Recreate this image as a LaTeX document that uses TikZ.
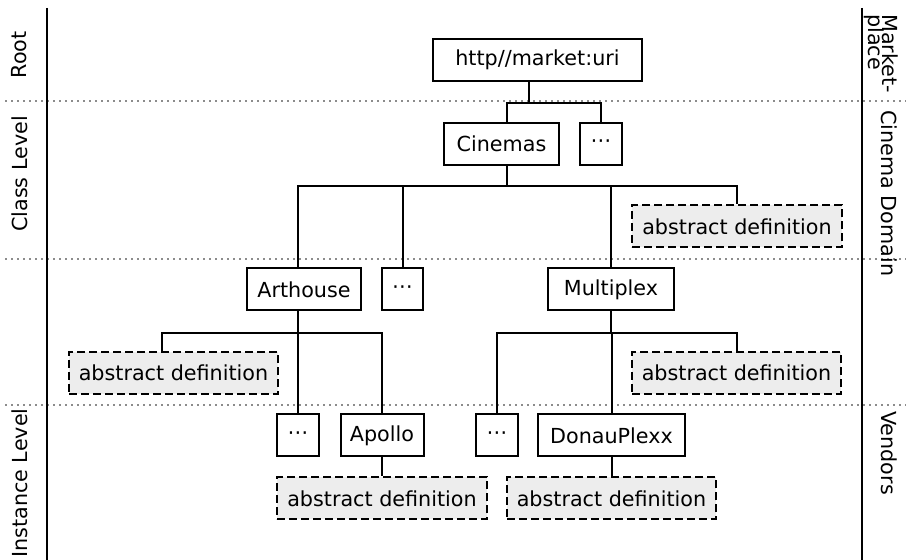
\documentclass[tikz,border=0pt]{standalone}
\usepackage{fontspec}
\setmainfont{DejaVu Sans}
\tikzset{box/.style = {draw, line width = 1pt, inner sep = 0, minimum height = 21pt}}
\tikzset{absdef/.style = {box, fill = black!7, dash pattern = on 4pt off 2pt}}
\tikzset{level/.style = {draw = black!45, line width = 1pt, dotted}}
\tikzset{edge/.style = {line width = 1pt}}
\tikzset{side/.style = {inner sep = 0}}

\begin{document}
\begin{tikzpicture}[x = 0.5pt, y = -0.5pt,
                    every node/.style = {font = \fontsize{10.35}{12.4}\selectfont}]
      \useasboundingbox (0, 0) rectangle (906, 560);
      \draw [level] (5, 101) -- (906, 101);
      \draw [level] (5, 259) -- (906, 259);
      \draw [level] (5, 405) -- (906, 405);
      \draw [edge] (47, 8) -- (47, 560);
      \draw [edge] (862, 8) -- (862, 560);

      \node [side, rotate = 90] (rootlbl) at (19.5, 55) {Root};
      \node [side, rotate = 90] (classlbl) at (19.5, 174) {Class Level};
      \node [side, rotate = 90] (instlbl) at (19.5, 483) {Instance Level};
      \node [side, rotate = -90, anchor = north west, align = left,
             font = {\fontsize{10.35}{7}\selectfont\lineskiplimit=-20pt}] (marketlbl) at (899, 14) {Market-\\place};
      \node [side, rotate = -90, anchor = north west] (domainlbl) at (898, 110) {Cinema Domain};
      \node [side, rotate = -90, anchor = north west] (vendorlbl) at (898, 411) {Vendors};

      \node [box, minimum width = 104.5pt] (root) at (537.5, 60) {http//market:uri};
      \node [box, minimum width = 57.5pt] (cinemas) at (501.5, 144) {Cinemas};
      \node [box, minimum width = 21pt] (moreA) at (601, 144) {⋯};
      \node [box, minimum width = 57pt] (arthouse) at (304, 289.5) {Arthouse};
      \node [box, minimum width = 20.5pt] (moreB) at (402.5, 289.5) {⋯};
      \node [box, minimum width = 63pt] (multiplex) at (611, 289.5) {Multiplex};
      \node [absdef, minimum width = 105pt] (defA) at (737, 226.5) {abstract definition};
      \node [absdef, minimum width = 104.5pt] (defB) at (173.5, 373) {abstract definition};
      \node [absdef, minimum width = 104.5pt] (defC) at (736.5, 373) {abstract definition};
      \node [box, minimum width = 21pt] (moreC) at (298, 435.5) {⋯};
      \node [box, minimum width = 41.5pt] (apollo) at (382, 435.5) {Apollo};
      \node [box, minimum width = 21pt] (moreD) at (497, 435.5) {⋯};
      \node [box, minimum width = 73.5pt] (donau) at (611.5, 435.5) {DonauPlexx};
      \node [absdef, minimum width = 105pt] (defD) at (382, 498.5) {abstract definition};
      \node [absdef, minimum width = 104.5pt] (defE) at (611.5, 498.5) {abstract definition};

      \draw [edge] ([xshift = -4.5pt]root.south) -- ++(0, 21) -| ([xshift = 2.75pt]cinemas.north);
      \draw [edge] ([xshift = -4.5pt]root.south) -- ++(0, 21) -| (moreA.north);
      \draw [edge] ([xshift = 2.75pt]cinemas.south) -- ++(0, 20) -| ([xshift = -3pt]arthouse.north);
      \draw [edge] ([xshift = 2.75pt]cinemas.south) -- ++(0, 20) -| (moreB.north);
      \draw [edge] ([xshift = 2.75pt]cinemas.south) -- ++(0, 20) -| (multiplex.north);
      \draw [edge] ([xshift = 2.75pt]cinemas.south) -- ++(0, 20) -| (defA.north);
      \draw [edge] ([xshift = -3pt]arthouse.south) -- ++(0, 21.5) -| ([xshift = -5.75pt]defB.north);
      \draw [edge] ([xshift = -3pt]arthouse.south) -- ++(0, 21.5) -| (moreC.north);
      \draw [edge] ([xshift = -3pt]arthouse.south) -- ++(0, 21.5) -| (apollo.north);
      \draw [edge] (multiplex.south) -- ++(0, 21.5) -| (moreD.north);
      \draw [edge] (multiplex.south) -- ++(0, 21.5) -| (donau.north);
      \draw [edge] (multiplex.south) -- ++(0, 21.5) -| (defC.north);
      \draw [edge] (apollo.south) -- (defD.north);
      \draw [edge] (donau.south) -- (defE.north);
    \end{tikzpicture}
\end{document}
